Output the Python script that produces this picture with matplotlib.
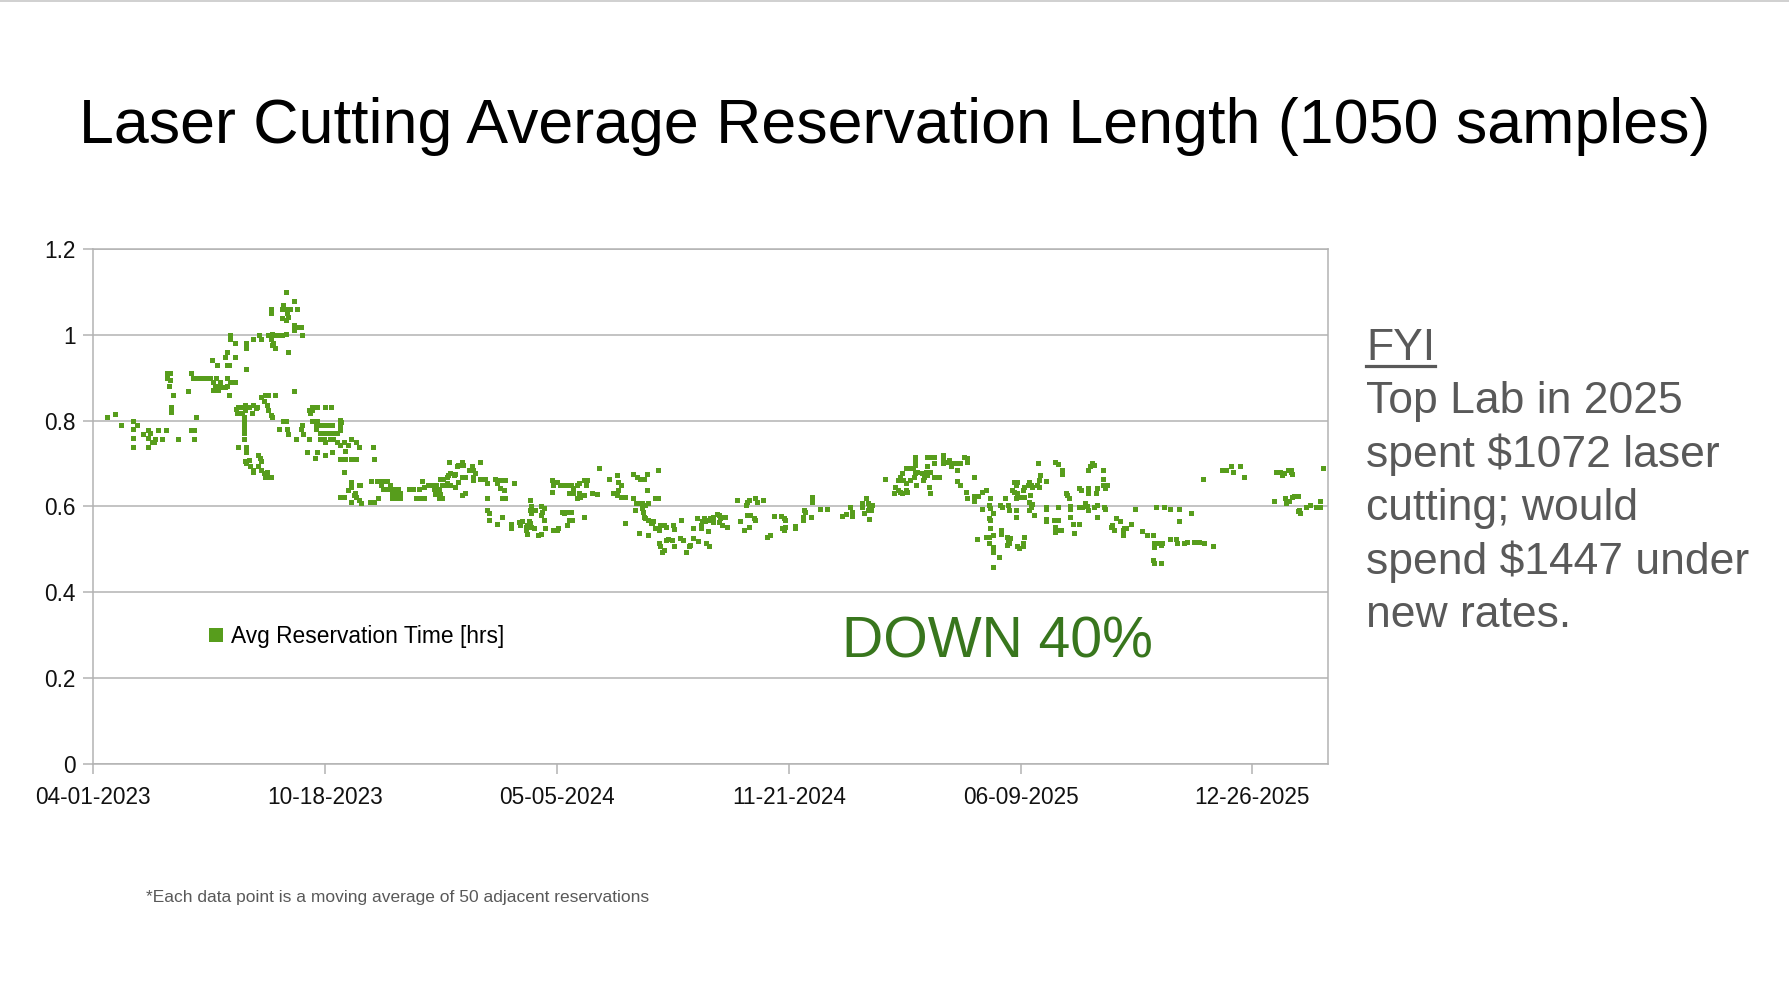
import matplotlib
matplotlib.use("Agg")
import matplotlib.pyplot as plt
import matplotlib.dates as mdates
from matplotlib.lines import Line2D
import pandas as pd

plt.rcParams['font.family'] = ['Liberation Sans', 'DejaVu Sans']

# ---------------- data ----------------
start_date = "2023-04-01"
# days since start_date of each plotted moving-average sample
days_since_start = [
    12, 19, 24, 34, 38, 34, 34, 34,
    43, 47, 49, 47, 51, 53, 56, 59, 63, 47, 52,
    67, 67, 73, 82, 84, 87, 87, 89,
    64, 66, 64, 66, 65, 69,
    84, 86, 90, 94, 97, 101,
    102, 103, 106, 109, 105, 108, 111, 114, 103, 108,
    107, 115, 115, 117, 114, 122, 115, 118, 122, 115, 117,
    118, 118, 122, 132, 132, 138, 143, 145, 132,
    151, 154, 157, 163, 166, 160, 153, 155, 157, 154,
    153, 153, 166, 164, 166, 163, 170, 167, 168, 166, 163,
    173, 176, 173, 173, 176, 179, 180, 168, 173,
    123, 125, 128, 131, 134, 138, 141, 124, 128, 131, 137, 140,
    130, 130, 130, 130, 130, 130, 125, 132, 132,
    131, 132, 135, 138, 138, 134,
    142, 144, 145, 142, 145, 147, 148, 151, 150, 153,
    145, 148, 151, 147, 150, 151, 153, 154, 157,
    160, 164, 166, 167, 168,
    175, 179, 180, 181, 186,
    186, 189, 187, 189, 193, 200, 205,
    189, 193, 192, 196, 199, 203, 206,
    192, 196, 199, 203, 206, 210,
    196, 199, 200, 204, 207, 210,
    184, 193, 191, 200, 206,
    # 2023 H2
    213, 213, 213, 214,
    216, 213, 220, 222, 227, 229,
    213, 217, 222, 227, 217,
    241, 242, 216,
    222, 222, 220, 229, 230, 225, 227, 226, 213, 216, 222, 229, 231,
    239, 242, 246,
    240, 245, 249, 253, 256, 248, 250, 253, 256, 259, 263, 258, 262, 258, 261, 265, 265,
    272, 276, 281, 284, 285, 278, 282, 285, 289, 292, 296, 294, 298, 301, 305, 298, 301, 295, 299,
    299, 302, 305, 306, 308, 311, 312, 305, 308,
    307, 314, 315, 318, 319, 327, 328, 324, 329, 334,
    318, 321, 315, 312, 318, 321,
    328, 328, 334, 338, 340, 347, 350, 352, 355, 363, 351, 354, 353, 340, 355, 348,
    340, 341, 341, 348, 353, 360, 360,
    367, 368, 370, 373, 374, 376, 377, 373, 374, 378, 380,
    377, 378, 377, 378, 381, 386, 389, 387, 386, 389, 390, 384, 386, 397, 400, 401, 404, 406, 409, 412, 410, 413, 409, 423,
    396, 397, 396, 400, 403, 406, 409, 412, 414, 417, 419, 423, 425, 426, 410, 414, 419, 423, 417, 420, 430, 435,
    436,
    445, 452, 453, 455, 453, 452, 448, 455, 459, 459,
    # 2024
    466, 469, 472, 475, 478, 487, 478, 485, 487,
    466, 468, 470, 473, 476, 479, 467, 473, 474, 475, 476,
    479, 481, 482, 483, 485, 488, 489, 492, 494, 500, 501, 507, 471, 479,
    488, 489, 491, 492, 494, 496, 499, 501, 506, 509, 511, 514, 515, 517, 522, 529, 531,
    517, 521, 524, 525, 527, 530, 532, 535, 538, 540, 541, 542, 545, 547, 530, 535, 540, 542, 524, 528,
    555, 563, 564, 566, 571, 573, 578,
    558, 561, 566, 564, 567, 570, 571,
    581, 584, 587, 593, 596, 597, 594, 596, 597, 605, 605,
    613, 614, 612, 612, 619, 620, 620, 627, 633,
    646, 649, 653, 655, 655, 663, 663, 665, 667, 668, 668, 669, 672, 669, 671,
    683,
    691, 694, 696, 698, 701, 702, 692, 694, 696, 698, 701, 704, 707, 708, 709, 711, 709, 709, 709, 710, 705, 699, 701,
    # 2025
    719, 722, 725, 725, 719, 718, 715, 717, 716, 719, 722, 721, 722, 725, 730,
    733, 733, 733, 736, 738, 740, 740, 743, 745, 748, 751, 754, 754, 745, 745, 748, 753, 754, 760, 760, 763, 760,
    767, 770, 774, 773, 774, 767, 776, 773, 774, 774, 762, 770, 773, 776, 773, 776, 776, 781, 776,
    782, 784, 783, 783, 787, 789, 790, 788, 789, 790, 788, 791,
    794, 796, 797, 793, 794, 797, 800, 803, 802, 803, 806, 807, 809, 810, 808, 807, 810, 809, 812, 807,
    814, 816, 817, 815, 816, 822, 796, 796, 796, 797, 799, 802, 802, 803,
    822, 822, 822, 822, 829, 832, 830, 830, 832, 835, 832, 830, 832, 836, 836, 839, 840, 842, 843, 843,
    843, 845, 846, 850, 852, 850, 853, 850, 856, 857, 858, 858, 858, 858, 860, 863, 862, 866, 865, 863,
    866, 866, 871, 871, 871, 873, 875, 872, 873,
    878, 879, 881, 882, 886, 888, 889, 891, 888, 895,
    899, 905, 909, 914, 917, 915, 915, 919, 922, 924, 921, 929, 929, 934, 935, 937, 937, 941, 944, 947,
    950, 954, 958, 957, 966, 914, 915, 921,
    974, 977, 982, 983, 989, 993,
    1019,
    1020, 1024, 1027, 1026, 1031, 1033, 1034, 1033,
    1028, 1029, 1032, 1034, 1036, 1039, 1039, 1041, 1040, 1046, 1050, 1055, 1058, 1058, 1061,
]

# average reservation time (hours) of each sample
avg_reservation_hrs = [
    .809, .815, .790, .800, .790, .780, .760, .739,
    .769, .778, .771, .760, .750, .758, .778, .758, .778, .739, .750,
    .831, .819, .758, .869, .778, .778, .758, .809,
    .910, .910, .898, .894, .881, .859,
    .910, .900, .900, .900, .900, .900,
    .941, .890, .898, .890, .879, .881, .879, .879, .871, .871,
    .929, .960, .929, .929, .948, .948, .900, .890, .890, .881, .859,
    .999, .990, .980, .980, .968, .990, .999, .990, .919,
    1.000, 1.001, .999, .999, 1.002, .999, .990, .980, .968, .975,
    1.059, 1.049, 1.100, 1.069, 1.059, 1.059, 1.059, 1.049, 1.042, 1.034, 1.038,
    1.079, 1.059, 1.022, 1.011, 1.018, 1.018, .999, .960, .869,
    .826, .831, .832, .836, .832, .836, .832, .818, .817, .824, .818, .828,
    .809, .797, .790, .780, .770, .758, .739, .739, .727,
    .706, .700, .693, .685, .681, .708,
    .720, .712, .706, .693, .685, .677, .669, .669, .681, .669,
    .855, .859, .859, .846, .836, .824, .813, .809, .859,
    .780, .800, .800, .780, .769,
    .758, .780, .790, .769, .758,
    .824, .824, .818, .831, .831, .831, .831,
    .800, .800, .790, .790, .790, .790, .790,
    .780, .771, .771, .771, .771, .771,
    .758, .758, .750, .758, .758, .750,
    .727, .727, .712, .720, .727,
    # 2023 H2
    .801, .790, .778, .797,
    .751, .743, .743, .758, .751, .739,
    .710, .710, .710, .710, .728,
    .739, .710, .680,
    .658, .646, .638, .650, .650, .627, .623, .631, .623, .623, .611, .614, .609,
    .610, .610, .619,
    .660, .660, .660, .660, .650, .650, .640, .640, .640, .640, .640, .631, .631, .619, .619, .619, .631,
    .640, .640, .640, .660, .646, .619, .619, .619, .650, .650, .650, .640, .640, .650, .654, .619, .619, .629, .629,
    .664, .664, .669, .673, .677, .673, .675, .650, .650,
    .704, .693, .696, .704, .696, .693, .685, .685, .677, .704,
    .669, .669, .658, .646, .627, .631,
    .669, .662, .665, .665, .654, .665, .662, .662, .662, .654, .642, .638, .619, .619, .619, .654,
    .592, .584, .569, .560, .575, .560, .549,
    .563, .557, .565, .553, .557, .565, .561, .545, .537, .553, .549,
    .615, .600, .592, .584, .592, .600, .596, .588, .580, .569, .549, .534, .537, .545, .545, .549, .588, .584, .588, .588, .569, .569, .557, .576,
    .662, .650, .634, .658, .650, .650, .650, .650, .642, .650, .654, .662, .650, .662, .631, .631, .631, .627, .619, .623, .631, .629,
    .689,
    .665, .673, .658, .650, .638, .627, .631, .623, .623, .561,
    # 2024
    .675, .669, .663, .663, .675, .685, .638, .619, .619,
    .619, .609, .609, .609, .603, .609, .592, .596, .586, .576, .572,
    .568, .561, .561, .565, .549, .545, .557, .557, .553, .557, .548, .568, .539, .534,
    .514, .507, .495, .499, .522, .524, .522, .507, .526, .522, .495, .507, .510, .526, .520, .514, .508,
    .549, .572, .557, .565, .572, .568, .572, .576, .583, .580, .572, .576, .575, .553, .544, .563, .563, .557, .549, .565,
    .614, .603, .611, .615, .619, .611, .614,
    .565, .545, .553, .580, .580, .572, .568,
    .530, .534, .578, .578, .572, .568, .549, .545, .553, .555, .549,
    .592, .586, .575, .568, .575, .623, .611, .594, .594,
    .578, .583, .598, .586, .578, .609, .598, .584, .619, .609, .592, .603, .603, .570, .592,
    .663,
    .631, .638, .634, .631, .638, .634, .646, .662, .669, .677, .689, .689, .689, .669, .677, .681, .716, .704, .696, .650, .662, .662, .655,
    # 2025
    .716, .716, .716, .700, .693, .681, .677, .669, .662, .673, .681, .646, .631, .669, .669,
    .720, .708, .700, .704, .708, .700, .693, .700, .700, .700, .716, .712, .704, .685, .660, .650, .634, .619, .669, .624, .624, .613,
    .634, .638, .619, .603, .596, .594, .584, .572, .568, .549, .524, .528, .530, .534, .514, .505, .495, .483, .460,
    .603, .598, .545, .536, .619, .603, .592, .530, .522, .516, .511, .526,
    .658, .650, .658, .638, .634, .631, .623, .623, .638, .646, .650, .658, .650, .646, .627, .611, .605, .599, .580, .592,
    .650, .646, .673, .700, .662, .660, .619, .592, .575, .507, .503, .507, .514, .530,
    .599, .594, .570, .565, .568, .568, .553, .541, .545, .545, .599, .703, .699, .685, .675, .631, .627, .619, .601, .593,
    .575, .559, .539, .642, .638, .599, .599, .559, .609, .601, .631, .642, .592, .685, .693, .696, .700, .642, .631, .599,
    .603, .575, .685, .663, .650, .642, .650, .599, .594,
    .553, .557, .545, .572, .565, .545, .549, .549, .534, .559,
    .593, .544, .534, .534, .598, .514, .505, .514, .514, .598, .511, .593, .524, .524, .514, .593, .565, .514, .518, .584,
    .518, .518, .514, .663, .508, .475, .469, .469,
    .685, .685, .694, .679, .694, .669,
    .613,
    .679, .679, .677, .673, .685, .685, .675, .680,
    .619, .609, .613, .623, .624, .624, .590, .585, .592, .598, .603, .598, .598, .613, .689,
]

y_ticks = [0, 0.2, 0.4, 0.6, 0.8, 1, 1.2]
y_tick_labels = ["0", "0.2", "0.4", "0.6", "0.8", "1", "1.2"]
x_tick_dates = ["2023-04-01", "2023-10-18", "2024-05-05", "2024-11-21", "2025-06-09", "2025-12-26"]
x_end_date = "2026-03-01"

series_label = "Avg Reservation Time [hrs]"
title_text = "Laser Cutting Average Reservation Length (1050 samples)"
callout_text = "DOWN 40%"
fyi_lines = ["Top Lab in 2025", "spent $1072 laser", "cutting; would",
             "spend $1447 under", "new rates."]
footnote_text = "*Each data point is a moving average of 50 adjacent reservations"

# ---------------- figure ----------------
W, H = 1789, 1006
fig = plt.figure(figsize=(W / 100, H / 100), dpi=100)
fig.patch.set_facecolor("white")

ax = fig.add_axes([93.3 / W, 1 - 764.3 / H, (1327.7 - 93.3) / W, (764.3 - 248.6) / H])

dates = pd.Timestamp(start_date) + pd.to_timedelta(days_since_start, unit="D")
green = "#579d1c"
grid_c = "#b3b3b3"

ax.plot(dates, avg_reservation_hrs, linestyle="none", marker="s", markersize=3.6,
        markeredgewidth=0, color=green, zorder=3)

ax.set_ylim(0, 1.2)
ax.set_yticks(y_ticks)
ax.set_yticklabels(y_tick_labels)
ax.set_xlim(pd.Timestamp(start_date), pd.Timestamp(x_end_date))
ax.set_xticks(pd.to_datetime(x_tick_dates))
ax.xaxis.set_major_formatter(mdates.DateFormatter("%m-%d-%Y"))

ax.grid(axis="y", color=grid_c, linewidth=1.1, zorder=0)
ax.set_axisbelow(True)
for s in ax.spines.values():
    s.set_color(grid_c)
    s.set_linewidth(1.1)
ax.tick_params(axis="both", colors=grid_c, length=7, width=1.1, labelsize=16.3,
               labelcolor="#111111")
ax.tick_params(axis="x", pad=8.5)
ax.tick_params(axis="y", pad=5.5)

leg_handle = Line2D([], [], linestyle="none", marker="s", markersize=10,
                    markeredgewidth=0, color=green)
ax.legend([leg_handle], [series_label], loc="center left",
          bbox_to_anchor=(0.0915, 0.2485), frameon=False, fontsize=16.4,
          handlelength=0.9, handletextpad=0.2, borderpad=0, borderaxespad=0)

fig.text(0.5, 1 - 143 / H, title_text, ha="center", va="baseline",
         fontsize=45.2, color="black")

fig.text(842 / W, 1 - 657 / H, callout_text, ha="left", va="baseline",
         fontsize=41.1, color="#38761d")

gray = "#595959"
fyi = fig.text(1366 / W, 1 - 360 / H, "FYI", ha="left", va="baseline",
               fontsize=32, color=gray)
baselines = [413.3, 466.7, 520, 574, 627.3]
for line, yb in zip(fyi_lines, baselines):
    fig.text(1366 / W, 1 - yb / H, line, ha="left", va="baseline",
             fontsize=32, color=gray)

fig.canvas.draw()
bb = fyi.get_window_extent()
fig.add_artist(Line2D([bb.x0 / W, bb.x1 / W], [1 - 365.5 / H, 1 - 365.5 / H],
                      transform=fig.transFigure, color=gray, linewidth=2.3))

fig.text(146 / W, 1 - 902 / H, footnote_text, ha="left", va="baseline",
         fontsize=12.5, color=gray)

fig.add_artist(Line2D([0, 1], [1 - 0.8 / H, 1 - 0.8 / H], transform=fig.transFigure,
                      color="#c8c8c8", linewidth=1.2))

fig.savefig("out.png", dpi=100, facecolor="white")
